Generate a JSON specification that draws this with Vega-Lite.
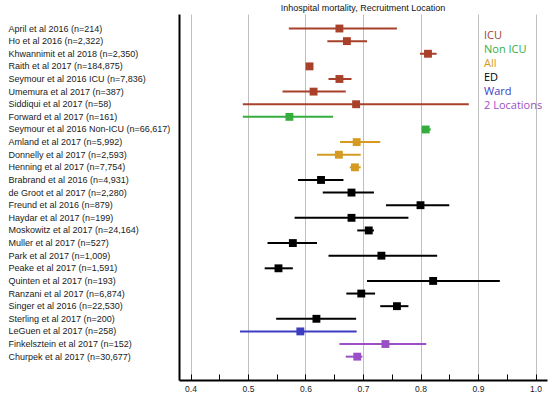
{
  "$schema": "https://vega.github.io/schema/vega-lite/v6.json",
  "width": 368,
  "height": 366,
  "autosize": {"type": "none"},
  "padding": {"left": 179, "top": 14, "right": 3, "bottom": 16},
  "background": "white",
  "title": {"text": "Inhospital mortality, Recruitment Location", "font": "Liberation Sans", "fontSize": 9, "fontWeight": "normal", "color": "#111", "anchor": "middle", "offset": 1},
  "config": {"view": {"stroke": null}},
  "data": {"values": [
    {"study": "April et al 2016 (n=214)", "loc": "ICU", "est": 0.659, "lo": 0.571, "hi": 0.759},
    {"study": "Ho et al 2016 (n=2,322)", "loc": "ICU", "est": 0.672, "lo": 0.638, "hi": 0.707},
    {"study": "Khwannimit et al 2018 (n=2,350)", "loc": "ICU", "est": 0.813, "lo": 0.799, "hi": 0.828},
    {"study": "Raith et al 2017 (n=184,875)", "loc": "ICU", "est": 0.607, "lo": 0.605, "hi": 0.609},
    {"study": "Seymour et al 2016 ICU (n=7,836)", "loc": "ICU", "est": 0.659, "lo": 0.640, "hi": 0.680},
    {"study": "Umemura et al 2017 (n=387)", "loc": "ICU", "est": 0.614, "lo": 0.560, "hi": 0.670},
    {"study": "Siddiqui et al 2017 (n=58)", "loc": "ICU", "est": 0.688, "lo": 0.491, "hi": 0.884},
    {"study": "Forward et al 2017 (n=161)", "loc": "Non ICU", "est": 0.572, "lo": 0.491, "hi": 0.648},
    {"study": "Seymour et al 2016 Non-ICU (n=66,617)", "loc": "Non ICU", "est": 0.809, "lo": 0.802, "hi": 0.818},
    {"study": "Amland et al 2017 (n=5,992)", "loc": "All", "est": 0.689, "lo": 0.660, "hi": 0.730},
    {"study": "Donnelly et al 2017 (n=2,593)", "loc": "All", "est": 0.658, "lo": 0.620, "hi": 0.696},
    {"study": "Henning et al 2017 (n=7,754)", "loc": "All", "est": 0.686, "lo": 0.677, "hi": 0.696},
    {"study": "Brabrand et al 2016 (n=4,931)", "loc": "ED", "est": 0.627, "lo": 0.587, "hi": 0.666},
    {"study": "de Groot et al 2017 (n=2,280)", "loc": "ED", "est": 0.680, "lo": 0.630, "hi": 0.719},
    {"study": "Freund et al 2016 (n=879)", "loc": "ED", "est": 0.800, "lo": 0.740, "hi": 0.850},
    {"study": "Haydar et al 2017 (n=199)", "loc": "ED", "est": 0.680, "lo": 0.581, "hi": 0.779},
    {"study": "Moskowitz et al 2017 (n=24,164)", "loc": "ED", "est": 0.710, "lo": 0.690, "hi": 0.719},
    {"study": "Muller et al 2017 (n=527)", "loc": "ED", "est": 0.578, "lo": 0.534, "hi": 0.620},
    {"study": "Park et al 2017 (n=1,009)", "loc": "ED", "est": 0.732, "lo": 0.640, "hi": 0.829},
    {"study": "Peake et al 2017 (n=1,591)", "loc": "ED", "est": 0.553, "lo": 0.529, "hi": 0.578},
    {"study": "Quinten et al 2017 (n=193)", "loc": "ED", "est": 0.822, "lo": 0.707, "hi": 0.938},
    {"study": "Ranzani et al 2017 (n=6,874)", "loc": "ED", "est": 0.697, "lo": 0.671, "hi": 0.721},
    {"study": "Singer et al 2016 (n=22,530)", "loc": "ED", "est": 0.759, "lo": 0.730, "hi": 0.779},
    {"study": "Sterling et al 2017 (n=200)", "loc": "ED", "est": 0.619, "lo": 0.549, "hi": 0.688},
    {"study": "LeGuen et al 2017 (n=258)", "loc": "Ward", "est": 0.591, "lo": 0.486, "hi": 0.689},
    {"study": "Finkelsztein et al 2017 (n=152)", "loc": "2 Locations", "est": 0.739, "lo": 0.659, "hi": 0.810},
    {"study": "Churpek et al 2017 (n=30,677)", "loc": "2 Locations", "est": 0.690, "lo": 0.670, "hi": 0.699}
  ]},
  "encoding": {
    "y": {"field": "study", "type": "nominal", "sort": null,
      "scale": {"type": "band", "paddingInner": 0, "paddingOuter": 1, "align": 0.325},
      "axis": {"title": null, "labelAlign": "left", "labelPadding": 171, "ticks": false, "grid": false,
        "domain": true, "domainColor": "#000", "domainWidth": 2, "labelFont": "Liberation Sans", "labelFontSize": 9,
        "labelColor": "#1a1a1a", "labelLimit": 0, "labelBaseline": "middle"}},
    "color": {"field": "loc", "type": "nominal",
      "scale": {"domain": ["ICU", "Non ICU", "All", "ED", "Ward", "2 Locations"],
        "range": ["#a8402a", "#35ad3e", "#d49a22", "#000000", "#3d3dc0", "#9a4fc6"]},
      "legend": {"title": null, "orient": "none", "legendX": 294, "legendY": 16, "symbolOpacity": 0, "symbolSize": 0,
        "symbolStrokeWidth": 0, "labelOffset": 0, "padding": 0, "labelFont": "Open Sans", "labelFontSize": 11,
        "rowPadding": 2, "labelLimit": 0,
        "encode": {"labels": {"update": {"fill": {"scale": "color", "field": "value"}}}}}}
  },
  "layer": [
    {"mark": {"type": "rule", "strokeWidth": 2},
      "encoding": {
        "x": {"field": "lo", "type": "quantitative",
          "scale": {"domain": [0.38, 1.02], "nice": false, "zero": false},
          "axis": {"title": null, "values": [0.4, 0.45, 0.5, 0.55, 0.6, 0.65, 0.7, 0.75, 0.8, 0.85, 0.9, 0.95, 1.0],
            "tickCount": 40,
            "labelExpr": "abs(datum.value*10 - round(datum.value*10)) < 0.001 ? format(datum.value, '.1f') : ''",
            "grid": true,
            "gridColor": "#bfbfbf",
            "gridOpacity": {"condition": {"test": "abs(datum.value*10 - round(datum.value*10)) > 0.001", "value": 0}, "value": 1},
            "gridWidth": 1,
            "domainColor": "#000", "domainWidth": 2,
            "tickColor": "#000",
            "tickSize": -6, "tickWidth": 1,
            "labelFont": "Liberation Sans", "labelFontSize": 8.5, "labelColor": "#1a1a1a", "labelPadding": 10,
            "labelFlush": false}},
        "x2": {"field": "hi"}
      }},
    {"mark": {"type": "square", "size": 62, "opacity": 1, "filled": true},
      "encoding": {"x": {"field": "est", "type": "quantitative"}}}
  ]
}
